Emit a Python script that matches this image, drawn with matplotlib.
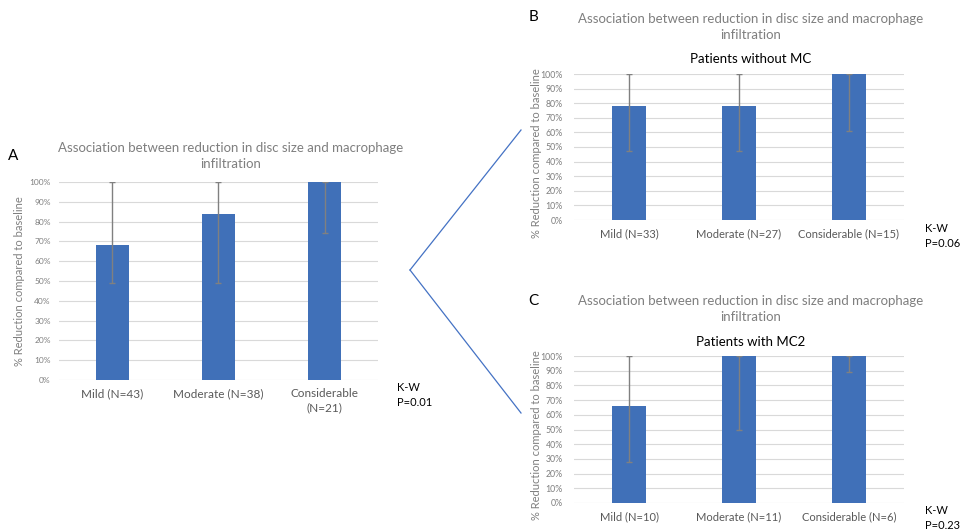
import matplotlib.pyplot as plt
from matplotlib.lines import Line2D
import numpy as np

plt.rcParams['font.family'] = ['Lato', 'DejaVu Sans']

# Panel A - all patients
cats_a = ['Mild (N=43)', 'Moderate (N=38)', 'Considerable\n(N=21)']
vals_a = [0.68, 0.84, 1.00]
low_a = [0.49, 0.49, 0.74]
high_a = [1.00, 1.00, 1.00]

# Panel B - patients without MC
cats_b = ['Mild (N=33)', 'Moderate (N=27)', 'Considerable (N=15)']
vals_b = [0.78, 0.78, 1.00]
low_b = [0.47, 0.47, 0.61]
high_b = [1.00, 1.00, 1.00]

# Panel C - patients with MC2
cats_c = ['Mild (N=10)', 'Moderate (N=11)', 'Considerable (N=6)']
vals_c = [0.66, 1.00, 1.00]
low_c = [0.28, 0.50, 0.89]
high_c = [1.00, 1.00, 1.00]

W, H = 966, 531
BAR = '#4070B8'
GRID = '#D9D9D9'
TXT = '#7F7F7F'
TITLE = 'Association between reduction in disc size and macrophage\ninfiltration'

fig = plt.figure(figsize=(W / 100, H / 100), dpi=100)


def px(x, y):
    return x / W, 1 - y / H


def panel(rect, cats, vals, low, high, xfs, yfs, ypad):
    l, t, r, b = rect
    ax = fig.add_axes([l / W, 1 - b / H, (r - l) / W, (b - t) / H])
    x = np.arange(len(cats))
    vals = np.array(vals)
    yerr = [vals - np.array(low), np.array(high) - vals]
    ax.bar(x, vals, width=0.31, color=BAR, zorder=2)
    ax.errorbar(x, vals, yerr=yerr, fmt='none', ecolor='#808080',
                elinewidth=1, capsize=2.5, capthick=1, zorder=3)
    ax.set_xlim(-0.5, len(cats) - 0.5)
    ax.set_ylim(0, 1)
    ticks = np.arange(0, 1.01, 0.1)
    ax.set_yticks(ticks)
    ax.set_yticklabels([f'{int(round(v * 100))}%' for v in ticks])
    ax.set_xticks(x)
    ax.set_xticklabels(cats, fontsize=xfs, color='#595959', linespacing=1.35)
    ax.tick_params(axis='y', length=0, labelsize=yfs, labelcolor=TXT, pad=ypad)
    ax.tick_params(axis='x', length=0, pad=6)
    ax.grid(axis='y', color=GRID, linewidth=0.8, zorder=0)
    ax.set_axisbelow(True)
    for s in ax.spines.values():
        s.set_visible(False)
    return ax


# Panel A
panel((59, 182, 378, 380), cats_a, vals_a, low_a, high_a, 8.5, 6, 6)
fig.text(*px(231, 156), TITLE, ha='center', va='center', fontsize=9.5,
         color=TXT, linespacing=1.45)
fig.text(*px(13, 156), 'A', ha='center', va='center', fontsize=11)
fig.text(*px(20, 281), '% Reduction compared to baseline', rotation=90,
         ha='center', va='center', fontsize=8, color=TXT)
fig.text(*px(397, 395), 'K-W\nP=0.01', ha='left', va='center', fontsize=8,
         linespacing=1.55)

# Panel B
panel((574, 74, 904, 220), cats_b, vals_b, low_b, high_b, 8, 6.3, 8)
fig.text(*px(751, 27), TITLE, ha='center', va='center', fontsize=9.5,
         color=TXT, linespacing=1.45)
fig.text(*px(751, 59), 'Patients without MC', ha='center', va='center', fontsize=9.5)
fig.text(*px(533, 17), 'B', ha='center', va='center', fontsize=11)
fig.text(*px(537, 153), '% Reduction compared to baseline', rotation=90,
         ha='center', va='center', fontsize=8, color=TXT)
fig.text(*px(925, 236), 'K-W\nP=0.06', ha='left', va='center', fontsize=8,
         linespacing=1.55)

# Panel C
panel((574, 356, 904, 503), cats_c, vals_c, low_c, high_c, 8, 6.3, 8)
fig.text(*px(751, 309), TITLE, ha='center', va='center', fontsize=9.5,
         color=TXT, linespacing=1.45)
fig.text(*px(751, 342), 'Patients with MC2', ha='center', va='center', fontsize=9.5)
fig.text(*px(533, 301), 'C', ha='center', va='center', fontsize=11)
fig.text(*px(537, 435), '% Reduction compared to baseline', rotation=90,
         ha='center', va='center', fontsize=8, color=TXT)
fig.text(*px(925, 518), 'K-W\nP=0.23', ha='left', va='center', fontsize=8,
         linespacing=1.55)

# connector lines from panel A to B and C
for end in [(521, 130), (521, 413)]:
    x0, y0 = px(410, 270)
    x1, y1 = px(*end)
    fig.add_artist(Line2D([x0, x1], [y0, y1], color='#4472C4', linewidth=0.9))

fig.savefig('out.png', dpi=100)
